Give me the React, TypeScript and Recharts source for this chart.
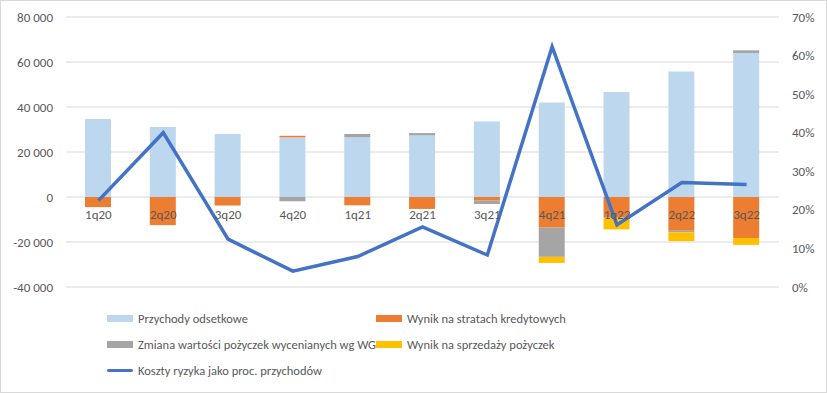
import { Bar, CartesianGrid, ComposedChart, Line, XAxis, YAxis } from 'recharts'

const categories = ['1q20', '2q20', '3q20', '4q20', '1q21', '2q21', '3q21', '4q21', '1q22', '2q22', '3q22']
const przychody = [34700, 31100, 28000, 26500, 26500, 27400, 33600, 42000, 46700, 55800, 64000]
const straty = [-4500, -12500, -3800, 700, -3700, -5300, -1600, -13600, -9000, -15000, -18200]
const zmiana = [0, 0, 0, -1900, 1500, 1000, -1500, -13000, -400, -700, 1200]
const sprzedaz = [0, 0, 0, 0, 0, 0, 0, -2700, -5000, -3900, -3100]
const koszty = [22.4, 40.0, 12.4, 4.1, 7.9, 15.6, 8.3, 62.3, 16.1, 27.1, 26.6]

const leftTicks = [-40000, -20000, 0, 20000, 40000, 60000, 80000]
const rightTicks = [0, 10, 20, 30, 40, 50, 60, 70]

const chartData = categories.map((c, i) => ({
  name: c,
  przychody: przychody[i],
  straty: straty[i],
  zmiana: zmiana[i],
  sprzedaz: sprzedaz[i],
  koszty: koszty[i],
}))

const TOP = 17
const PLOT_H = 270
const Y_MIN = -40000
const Y_MAX = 80000
// the category labels sit right under the zero line, like in Excel
const yZero = TOP + (PLOT_H * Y_MAX) / (Y_MAX - Y_MIN)

const font = "Calibri, Carlito, 'Liberation Sans Narrow', 'Liberation Sans', sans-serif"
const textColor = '#595959'

const fmt = (v: number) => {
  const s = Math.abs(v).toString().replace(/\B(?=(\d{3})+(?!\d))/g, ' ')
  return v < 0 ? '-' + s : s
}

function CategoryTick(props: any) {
  const { x, payload } = props
  return (
    <text x={x} y={yZero + 22} textAnchor="middle" fill={textColor} fontSize={13} fontFamily={font}>
      {payload.value}
    </text>
  )
}

const legendItems = [
  { label: 'Przychody odsetkowe', color: '#BDD7EE', line: false },
  { label: 'Wynik na stratach kredytowych', color: '#ED7D31', line: false },
  { label: 'Zmiana wartości pożyczek wycenianych wg WG', color: '#A5A5A5', line: false },
  { label: 'Wynik na sprzedaży pożyczek', color: '#FFC000', line: false },
  { label: 'Koszty ryzyka jako proc. przychodów', color: '#4472C4', line: true },
]

export default function App() {
  return (
    <div
      style={{
        position: 'fixed',
        left: 0,
        top: 0,
        width: 827,
        height: 393,
        background: '#fff',
        boxSizing: 'border-box',
        border: '1px solid #D9D9D9',
        fontFamily: font,
      }}
    >
      <div style={{ position: 'absolute', left: -1, top: -1 }}>
        <ComposedChart
          width={827}
          height={300}
          data={chartData}
          stackOffset="sign"
          margin={{ top: TOP, right: 0, left: 0, bottom: 0 }}
        >
          <CartesianGrid vertical={false} stroke="#D9D9D9" yAxisId="left" />
          <XAxis
            dataKey="name"
            height={13}
            axisLine={false}
            tickLine={false}
            tick={<CategoryTick />}
            interval={0}
          />
          <YAxis
            yAxisId="left"
            width={66}
            domain={[Y_MIN, Y_MAX]}
            ticks={leftTicks}
            tickFormatter={fmt}
            axisLine={false}
            tickLine={false}
            tickSize={0}
            tickMargin={13}
            tick={{ fill: textColor, fontSize: 13, fontFamily: font }}
          />
          <YAxis
            yAxisId="right"
            orientation="right"
            width={48}
            domain={[0, 70]}
            ticks={rightTicks}
            tickFormatter={(v: number) => `${v}%`}
            axisLine={false}
            tickLine={false}
            tickSize={0}
            tickMargin={13}
            tick={{ fill: textColor, fontSize: 13, fontFamily: font, textAnchor: 'start' }}
          />
          <Bar yAxisId="left" dataKey="przychody" stackId="a" fill="#BDD7EE" barSize={26} isAnimationActive={false} />
          <Bar yAxisId="left" dataKey="straty" stackId="a" fill="#ED7D31" barSize={26} isAnimationActive={false} />
          <Bar yAxisId="left" dataKey="zmiana" stackId="a" fill="#A5A5A5" barSize={26} isAnimationActive={false} />
          <Bar yAxisId="left" dataKey="sprzedaz" stackId="a" fill="#FFC000" barSize={26} isAnimationActive={false} />
          <Line
            yAxisId="right"
            dataKey="koszty"
            stroke="#4472C4"
            strokeWidth={3.5}
            dot={false}
            type="linear"
            isAnimationActive={false}
          />
        </ComposedChart>
      </div>
      <div
        style={{
          position: 'absolute',
          left: 106,
          top: 308,
          display: 'grid',
          gridTemplateColumns: '269px auto',
          rowGap: 7,
          fontSize: 12.5,
          color: textColor,
        }}
      >
        {legendItems.map(item => (
          <div key={item.label} style={{ display: 'flex', alignItems: 'center', height: 19, whiteSpace: 'nowrap' }}>
            <span
              style={{
                display: 'inline-block',
                width: 26,
                height: item.line ? 3 : 7,
                borderRadius: item.line ? 2 : 0,
                background: item.color,
                marginRight: 5,
              }}
            />
            {item.label}
          </div>
        ))}
      </div>
    </div>
  )
}
